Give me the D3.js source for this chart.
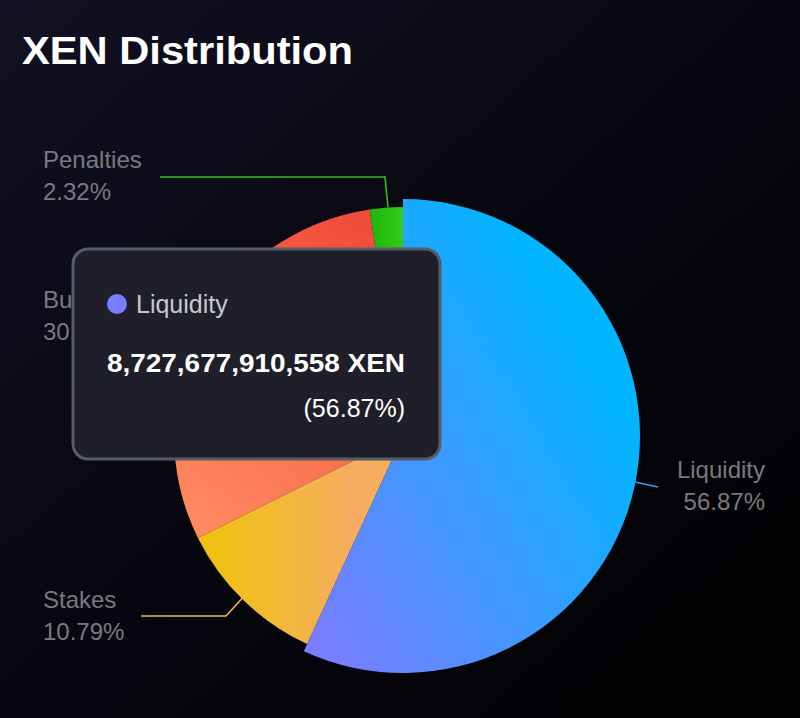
<!DOCTYPE html>
<html><head><meta charset="utf-8">
<script src="https://cdn.jsdelivr.net/npm/d3@7.9.0/dist/d3.min.js"></script>
<style>body{margin:0;background:#000}svg{display:block}</style>
</head><body><svg></svg>
<script>
const width = 800, height = 718;
const names = ["Liquidity", "Stakes", "Burned", "Penalties"];
const percents = [56.87, 10.79, 30.02, 2.32];
const tipName = "Liquidity";
const tipValue = "8,727,677,910,558 XEN";
const tipPct = "(56.87%)";

const font = "Liberation Sans, Arial, sans-serif";
const svg = d3.select("svg").attr("width", width).attr("height", height);
const defs = svg.append("defs");

// background
const bg = defs.append("linearGradient").attr("id", "bg").attr("x1", 0).attr("y1", 0).attr("x2", 1).attr("y2", 1);
bg.append("stop").attr("offset", 0).attr("stop-color", "#121022");
bg.append("stop").attr("offset", 0.6).attr("stop-color", "#05050c");
bg.append("stop").attr("offset", 1).attr("stop-color", "#020203");
svg.append("rect").attr("width", width).attr("height", height).attr("fill", "url(#bg)");

svg.append("text").attr("x", 22).attr("y", 64).attr("fill", "#fff")
    .attr("font-family", font).attr("font-weight", "bold")
    .attr("font-size", 38).attr("textLength", 331).attr("lengthAdjust", "spacingAndGlyphs")
    .text("XEN Distribution");

const cx = 403, cy = 436, r = 229;

// slice gradients, in user space around the centre
const grads = [
    ["g0", [-100, 200, 230, 0], "#7c7cff", "#03b4ff"],
    ["g1", [-200, 100, -50, 100], "#efc20c", "#f5ad60"],
    ["g2", [-220, 80, -20, -200], "#ff8a60", "#f04c3a"],
    ["g3", [-30, 0, 0, 0], "#1eb80c", "#35cc18"]
];
grads.forEach(([id, c, a, b]) => {
    const g = defs.append("linearGradient").attr("id", id).attr("gradientUnits", "userSpaceOnUse")
        .attr("x1", c[0]).attr("y1", c[1]).attr("x2", c[2]).attr("y2", c[3]);
    g.append("stop").attr("offset", 0).attr("stop-color", a);
    g.append("stop").attr("offset", 1).attr("stop-color", b);
});

const pie = d3.pie().sort(null).value(d => d)(percents);
const arc = d3.arc().innerRadius(0).outerRadius(r);
const arcBig = d3.arc().innerRadius(0).outerRadius(r + 8);

const g = svg.append("g").attr("transform", `translate(${cx},${cy})`);
// draw the highlighted slice last
[1, 2, 3, 0].forEach(i => {
    g.append("path").attr("d", (i === 0 ? arcBig : arc)(pie[i])).attr("fill", `url(#g${i})`);
});

// label lines and labels
const lineCol = ["#2a9dff", "#f5b84a", "#f5623f", "#2cc414"];
const lab = [
    {pts: [[635, 482], [658, 487]], x: 765, y: 478, anchor: "end"},
    {pts: [[247, 593], [226, 616], [141, 616]], x: 43, y: 608, anchor: "start"},
    {pts: null, x: 43, y: 308, anchor: "start"},
    {pts: [[388, 207], [385, 177], [160, 177]], x: 43, y: 168, anchor: "start"}
];
lab.forEach((l, i) => {
    if (l.pts) svg.append("path").attr("d", d3.line()(l.pts)).attr("fill", "none")
        .attr("stroke", lineCol[i]).attr("stroke-width", 1.6);
    const t = svg.append("text").attr("x", l.x).attr("y", l.y).attr("fill", "#7a7a7e")
        .attr("font-family", font).attr("font-size", 24)
        .attr("text-anchor", l.anchor);
    t.append("tspan").attr("x", l.x).text(names[i]);
    t.append("tspan").attr("x", l.x).attr("dy", 32).text(percents[i].toFixed(2) + "%");
});

// tooltip
const tip = svg.append("g");
tip.append("rect").attr("x", 73).attr("y", 249).attr("width", 367).attr("height", 210).attr("rx", 15)
    .attr("fill", "#1f1f2a").attr("stroke", "#575c6b").attr("stroke-width", 3);
tip.append("circle").attr("cx", 117).attr("cy", 304).attr("r", 10).attr("fill", "#7b7dff");
tip.append("text").attr("x", 136).attr("y", 313).attr("fill", "#c8c8cc")
    .attr("font-family", font).attr("font-size", 25).text(tipName);
tip.append("text").attr("x", 405).attr("y", 372).attr("text-anchor", "end").attr("fill", "#fff")
    .attr("font-family", font).attr("font-weight", "bold")
    .attr("font-size", 25).attr("textLength", 298).attr("lengthAdjust", "spacingAndGlyphs").text(tipValue);
tip.append("text").attr("x", 405).attr("y", 417).attr("text-anchor", "end").attr("fill", "#fff")
    .attr("font-family", font).attr("font-size", 25).text(tipPct);
</script></body></html>
